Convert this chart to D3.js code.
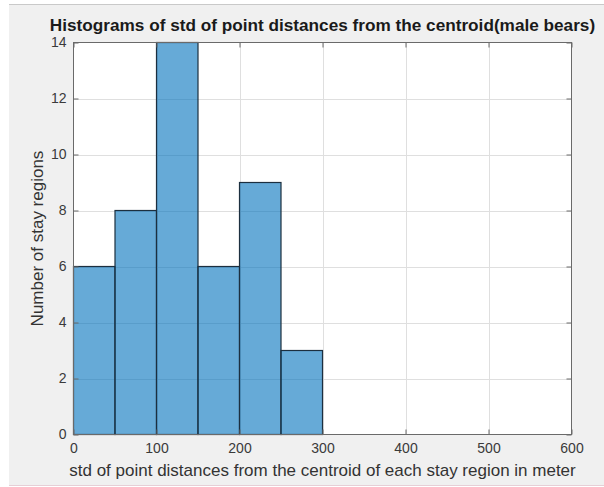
<!DOCTYPE html>
<html>
<head>
<meta charset="utf-8">
<script src="https://cdn.jsdelivr.net/npm/d3@7"></script>
<style>
  html, body { margin: 0; padding: 0; background: #ffffff; }
  svg { display: block; font-family: "Liberation Sans", Arial, sans-serif; }
</style>
</head>
<body>
<svg id="chart" width="604" height="487"></svg>
<script>
// Histogram bins (meters) and counts of stay regions per bin
const binEdges = [0, 50, 100, 150, 200, 250, 300];
const binCounts = [6, 8, 14, 6, 9, 3];
const xTicks = [0, 100, 200, 300, 400, 500, 600];
const yTicks = [0, 2, 4, 6, 8, 10, 12, 14];
const titleText = "Histograms of std of point distances from the centroid(male bears)";
const xLabelText = "std of point distances from the centroid of each stay region in meter";
const yLabelText = "Number of stay regions";

const bins = binCounts.map((c, i) => ({ x0: binEdges[i], x1: binEdges[i + 1], count: c }));

const svg = d3.select("#chart");

// figure panel
svg.append("rect").attr("x", 9).attr("y", 4).attr("width", 595).attr("height", 481).attr("fill", "#f0f0f0");
svg.append("line").attr("x1", 9).attr("x2", 604).attr("y1", 4.5).attr("y2", 4.5).attr("stroke", "#c9c9c9");
svg.append("line").attr("x1", 9).attr("x2", 604).attr("y1", 485.5).attr("y2", 485.5).attr("stroke", "#e6cfd6");

const plot = { left: 73.5, right: 571.5, top: 42.5, bottom: 434.5 };

const x = d3.scaleLinear().domain([0, 600]).range([plot.left, plot.right]);
const y = d3.scaleLinear().domain([0, 14]).range([plot.bottom, plot.top]);

// axes background
svg.append("rect")
  .attr("x", plot.left).attr("y", plot.top)
  .attr("width", plot.right - plot.left).attr("height", plot.bottom - plot.top)
  .attr("fill", "#ffffff");

// grid
const grid = svg.append("g").attr("stroke", "#dfdfdf").attr("stroke-width", 1);
grid.selectAll("line.gx").data(xTicks.slice(1, -1)).join("line")
  .attr("x1", d => Math.round(x(d)) + 0.5).attr("x2", d => Math.round(x(d)) + 0.5)
  .attr("y1", plot.top).attr("y2", plot.bottom);
grid.selectAll("line.gy").data(yTicks.slice(1, -1)).join("line")
  .attr("y1", d => Math.round(y(d)) + 0.5).attr("y2", d => Math.round(y(d)) + 0.5)
  .attr("x1", plot.left).attr("x2", plot.right);

// bars (semi-transparent so the grid shows through)
svg.append("g").selectAll("rect").data(bins).join("rect")
  .attr("x", d => x(d.x0))
  .attr("y", d => y(d.count))
  .attr("width", d => x(d.x1) - x(d.x0))
  .attr("height", d => y(0) - y(d.count))
  .attr("fill", "#0072bd").attr("fill-opacity", 0.6)
  .attr("stroke", "#1c2f3f").attr("stroke-width", 1.2);

// axes with inward ticks on all four sides
const tickColor = "#6a6a6a";
const bottomAxis = d3.axisBottom(x).tickValues(xTicks).tickSize(-5).tickPadding(9).tickSizeOuter(0);
const topAxis = d3.axisTop(x).tickValues(xTicks).tickSize(-5).tickFormat("").tickSizeOuter(0);
const leftAxis = d3.axisLeft(y).tickValues(yTicks).tickSize(-5).tickPadding(7).tickSizeOuter(0);
const rightAxis = d3.axisRight(y).tickValues(yTicks).tickSize(-5).tickFormat("").tickSizeOuter(0);

function style(g) {
  g.select(".domain").remove();
  g.selectAll(".tick line").attr("stroke", tickColor);
  g.selectAll(".tick text").attr("fill", "#3a3a3a").attr("font-size", 14)
    .attr("font-family", "Liberation Sans, Arial, sans-serif");
}
svg.append("g").attr("transform", `translate(0,${plot.bottom})`).call(bottomAxis).call(style);
svg.append("g").attr("transform", `translate(0,${plot.top})`).call(topAxis).call(style);
svg.append("g").attr("transform", `translate(${plot.left},0)`).call(leftAxis).call(style);
svg.append("g").attr("transform", `translate(${plot.right},0)`).call(rightAxis).call(style);

// axes box
svg.append("rect")
  .attr("x", plot.left).attr("y", plot.top)
  .attr("width", plot.right - plot.left).attr("height", plot.bottom - plot.top)
  .attr("fill", "none").attr("stroke", tickColor).attr("stroke-width", 1);

// title and labels
svg.append("text")
  .attr("x", (plot.left + plot.right) / 2).attr("y", 31)
  .attr("text-anchor", "middle").attr("font-weight", "bold").attr("font-size", 17.2)
  .attr("fill", "#1a1a1a").text(titleText);

svg.append("text")
  .attr("x", (plot.left + plot.right) / 2).attr("y", 476)
  .attr("text-anchor", "middle").attr("font-size", 17)
  .attr("fill", "#333333").text(xLabelText);

svg.append("text")
  .attr("transform", `translate(43,${(plot.top + plot.bottom) / 2}) rotate(-90)`)
  .attr("text-anchor", "middle").attr("font-size", 17)
  .attr("fill", "#333333").text(yLabelText);
</script>
</body>
</html>
